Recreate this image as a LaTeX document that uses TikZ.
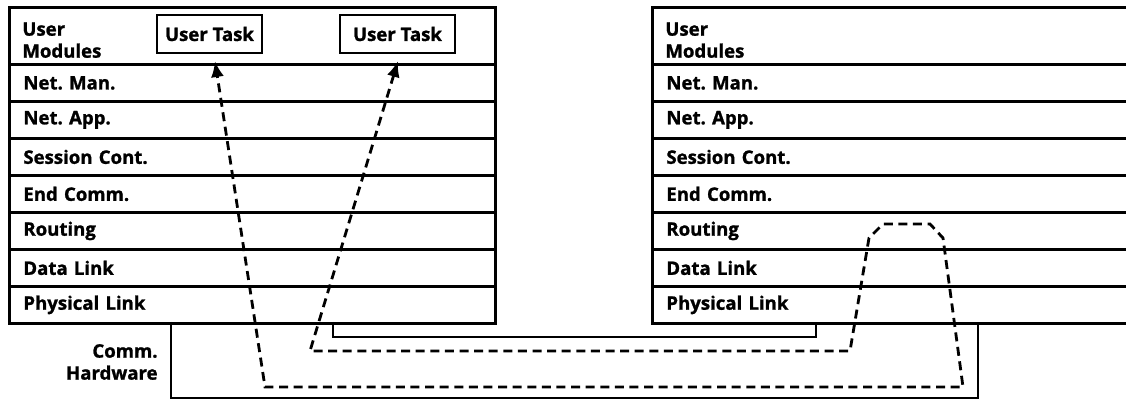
\documentclass[tikz,border=0pt]{standalone}
\usepackage{fontspec}
\setmainfont{Open Sans}[BoldFeatures={FakeBold=1.2}]
\usetikzlibrary{arrows.meta}
\newcommand\lbl{\fontsize{9.3}{11}\selectfont\bfseries\frenchspacing}
\begin{document}
\begin{tikzpicture}[x=0.5pt,y=-0.5pt,
  layer/.style={draw, line width=1.4pt, anchor=north west, minimum width=#1,
    minimum height=18.5pt, text width=#1-14pt, inner xsep=7pt, inner ysep=0pt,
    align=left, font=\lbl},
  layer/.default=243pt,
  toplabel/.style={anchor=north west, align=left, inner sep=0pt, font=\lbl},
  taskbox/.style={draw, line width=1.2pt, minimum height=19pt, inner sep=0pt, font=\lbl},
  hwline/.style={line width=1.1pt, line join=miter},
  busline/.style={line width=1.3pt, line join=miter},
  msgpath/.style={line width=1.4pt, dash pattern=on 4.5pt off 2.8pt, line join=miter,
    {Latex[length=8pt,width=6.5pt]}-{Latex[length=8pt,width=6.5pt]}}
]
\useasboundingbox (0,0) rectangle (1126,400);
\clip (0,0) rectangle (1126,400);
\fill[white] (0,0) rectangle (1126,400);

% left stack
\node[layer, minimum height=28.5pt] (lum) at (8,6) {};
\node[toplabel] (luml) at (22,22) {User\\Modules};
\node[layer] (lnm) at (8,63)  {Net. Man.};
\node[layer] (lna) at (8,100) {Net. App.};
\node[layer] (lsc) at (8,137) {Session Cont.};
\node[layer] (lec) at (8,174) {End Comm.};
\node[layer] (lro) at (8,211) {Routing};
\node[layer] (ldl) at (8,248) {Data Link};
\node[layer] (lpl) at (8,285) {Physical Link};

% right stack
\node[layer=245pt, minimum height=28.5pt] (rum) at (651,6) {};
\node[toplabel] (ruml) at (665,22) {User\\Modules};
\node[layer=245pt] (rnm) at (651,63)  {Net. Man.};
\node[layer=245pt] (rna) at (651,100) {Net. App.};
\node[layer=245pt] (rsc) at (651,137) {Session Cont.};
\node[layer=245pt] (rec) at (651,174) {End Comm.};
\node[layer=245pt] (rro) at (651,211) {Routing};
\node[layer=245pt] (rdl) at (651,248) {Data Link};
\node[layer=245pt] (rpl) at (651,285) {Physical Link};

% user tasks
\node[taskbox, minimum width=52.5pt] (ut1) at (209.5,34) {User Task};
\node[taskbox, minimum width=57.5pt] (ut2) at (397.5,34) {User Task};

% communication hardware
\draw[hwline] (171,322) -- (171,398) -- (978,398) -- (978,322);
\node[anchor=east, align=right, inner sep=0pt, font=\lbl] (hwl) at (158,362) {Comm.\\Hardware};
\draw[busline] (333,322) -- (333,337) -- (816,337) -- (816,322);

% message path
\coordinate (t1) at (215,61);
\coordinate (t2) at (398,61);
\coordinate (p1) at (310,351);
\coordinate (p2) at (850,351);
\coordinate (p3) at (869,238);
\coordinate (p4) at (883,224);
\coordinate (p5) at (930,224);
\coordinate (p6) at (943,238);
\coordinate (p7) at (963,387);
\coordinate (p8) at (265,387);
\draw[msgpath] (t2) -- (p1) -- (p2) -- (p3) -- (p4) -- (p5) -- (p6) -- (p7) -- (p8) -- (t1);
\end{tikzpicture}
\end{document}
